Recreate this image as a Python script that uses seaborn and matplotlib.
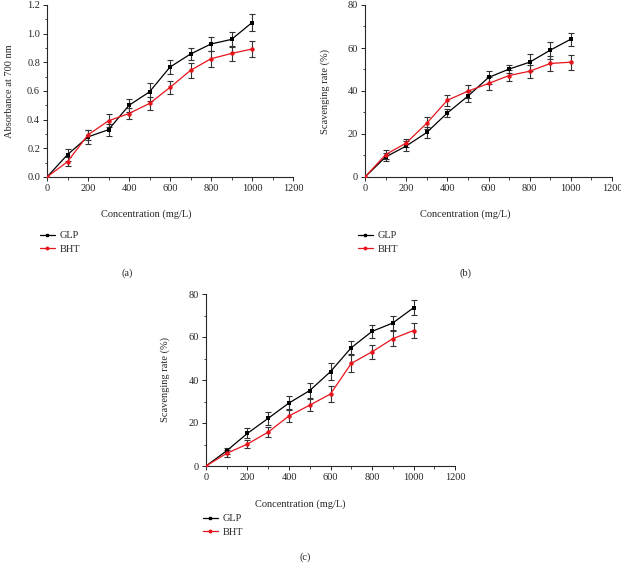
import numpy as np
import pandas as pd
import matplotlib
matplotlib.use("Agg")
import matplotlib.pyplot as plt
import seaborn as sns
from matplotlib.ticker import MultipleLocator
from matplotlib.lines import Line2D

conc = [0, 100, 200, 300, 400, 500, 600, 700, 800, 900, 1000]

# (a) reducing power
a_glp = [0, 0.156, 0.28, 0.33, 0.50, 0.594, 0.767, 0.858, 0.928, 0.96, 1.077]
a_glp_err = [0, 0.042, 0.05, 0.042, 0.047, 0.065, 0.047, 0.044, 0.051, 0.054, 0.06]
a_bht = [0, 0.107, 0.294, 0.392, 0.443, 0.513, 0.625, 0.744, 0.825, 0.862, 0.893]
a_bht_err = [0, 0.03, 0.035, 0.046, 0.04, 0.045, 0.043, 0.05, 0.055, 0.05, 0.053]

# (b) scavenging rate
b_glp = [0, 9.3, 14.4, 20.7, 29.8, 37.6, 46.3, 50.2, 53.4, 59.0, 64.1]
b_glp_err = [0, 2, 2.5, 2.5, 2, 2.5, 3, 2, 4, 4, 3]
b_bht = [0, 10.4, 15.8, 25.0, 35.7, 39.9, 43.5, 47.2, 49.2, 52.8, 53.4]
b_bht_err = [0, 2, 2, 2.8, 2.5, 3, 3, 2.5, 3, 3.5, 3.5]

# (c) scavenging rate
c_glp = [0, 7.1, 15.2, 22.2, 29.3, 35.1, 43.9, 55.0, 62.6, 66.5, 73.6]
c_glp_err = [0, 1.5, 2.3, 3, 3.3, 3.5, 3.8, 3, 3, 3.3, 3.5]
c_bht = [0, 5.9, 10.2, 15.8, 23.3, 28.3, 33.5, 47.7, 53.1, 59.2, 63.0]
c_bht_err = [0, 1.5, 2, 2.5, 3, 2.8, 3.5, 3.8, 3.2, 3.5, 3.5]

sns.set_style("ticks")
plt.rcParams['font.family'] = ['Liberation Serif', 'DejaVu Serif']
plt.rcParams['font.size'] = 7.5

fig = plt.figure(figsize=(6.21, 5.62), dpi=100)
W, H = 621, 562
RED = "#e8141c"


def px_axes(x0, y0, x1, y1):
    return fig.add_axes([x0 / W, 1 - y1 / H, (x1 - x0) / W, (y1 - y0) / H])


def panel(ax, glp, glp_err, bht, bht_err, ymax, ystep, ylabel, fmt, pad):
    df = pd.DataFrame({"conc": conc * 2,
                       "val": glp + bht,
                       "grp": ["GLP"] * len(conc) + ["BHT"] * len(conc)})
    for g, e in [(glp, glp_err), (bht, bht_err)]:
        ax.errorbar(conc, g, yerr=e, fmt="none", ecolor="#333333", elinewidth=0.8,
                    capsize=2.2, capthick=0.8, zorder=2)
    sns.lineplot(data=df[df.grp == "GLP"], x="conc", y="val", color="black",
                 marker="s", markersize=3.5, markeredgewidth=0, linewidth=0.9,
                 ax=ax, zorder=3)
    sns.lineplot(data=df[df.grp == "BHT"], x="conc", y="val", color=RED,
                 marker="o", markersize=3.2, markeredgewidth=0, linewidth=0.9,
                 ax=ax, zorder=3)
    ax.set_xlim(0, 1200)
    ax.set_ylim(0, ymax)
    ax.xaxis.set_major_locator(MultipleLocator(200))
    ax.xaxis.set_minor_locator(MultipleLocator(100))
    ax.yaxis.set_major_locator(MultipleLocator(ystep))
    ax.yaxis.set_minor_locator(MultipleLocator(ystep / 2))
    ax.yaxis.set_major_formatter(plt.FuncFormatter(lambda v, p: fmt.format(v)))
    ax.tick_params(which="major", length=3, width=0.7, labelsize=7.5, pad=2)
    ax.tick_params(which="minor", length=1.8, width=0.6)
    for s in ["left", "bottom"]:
        ax.spines[s].set_linewidth(0.8)
    sns.despine(ax=ax)
    ax.set_xlabel("")
    ax.set_ylabel(ylabel, fontsize=7.5, labelpad=pad)


def legend_and_labels(lx, ly, cx, xly, tag, tagx, tagy):
    handles = [Line2D([], [], color="black", marker="s", markersize=1.8, lw=0.9),
               Line2D([], [], color=RED, marker="o", markersize=1.8, lw=0.9)]
    fig.legend(handles, ["GLP", "BHT"], loc="upper left",
               bbox_to_anchor=(lx / W, 1 - ly / H), frameon=False,
               fontsize=7.5, handlelength=1.4, handletextpad=0.5,
               labelspacing=0.4, borderaxespad=0, borderpad=0)
    fig.text(cx / W, 1 - xly / H, "Concentration (mg/L)", ha="center",
             va="center", fontsize=7.5)
    fig.text(tagx / W, 1 - tagy / H, tag, ha="center", va="center",
             fontsize=7.5)


ax_a = px_axes(47, 5, 293, 177)
panel(ax_a, a_glp, a_glp_err, a_bht, a_bht_err, 1.2, 0.2,
      "Absorbance at 700 nm", "{:.1f}", 9.5)
legend_and_labels(40, 231, 146, 214, "(a)", 127, 273)

ax_b = px_axes(365, 5, 612, 177)
panel(ax_b, b_glp, b_glp_err, b_bht, b_bht_err, 80, 20,
      "Scavenging rate (%)", "{:.0f}", 12.4)
legend_and_labels(358, 231, 465, 214, "(b)", 465, 273)

ax_c = px_axes(206, 294, 455, 466)
panel(ax_c, c_glp, c_glp_err, c_bht, c_bht_err, 80, 20,
      "Scavenging rate (%)", "{:.0f}", 13.8)
legend_and_labels(203, 514, 300, 504, "(c)", 305, 557)

fig.savefig("out.png", dpi=100)
